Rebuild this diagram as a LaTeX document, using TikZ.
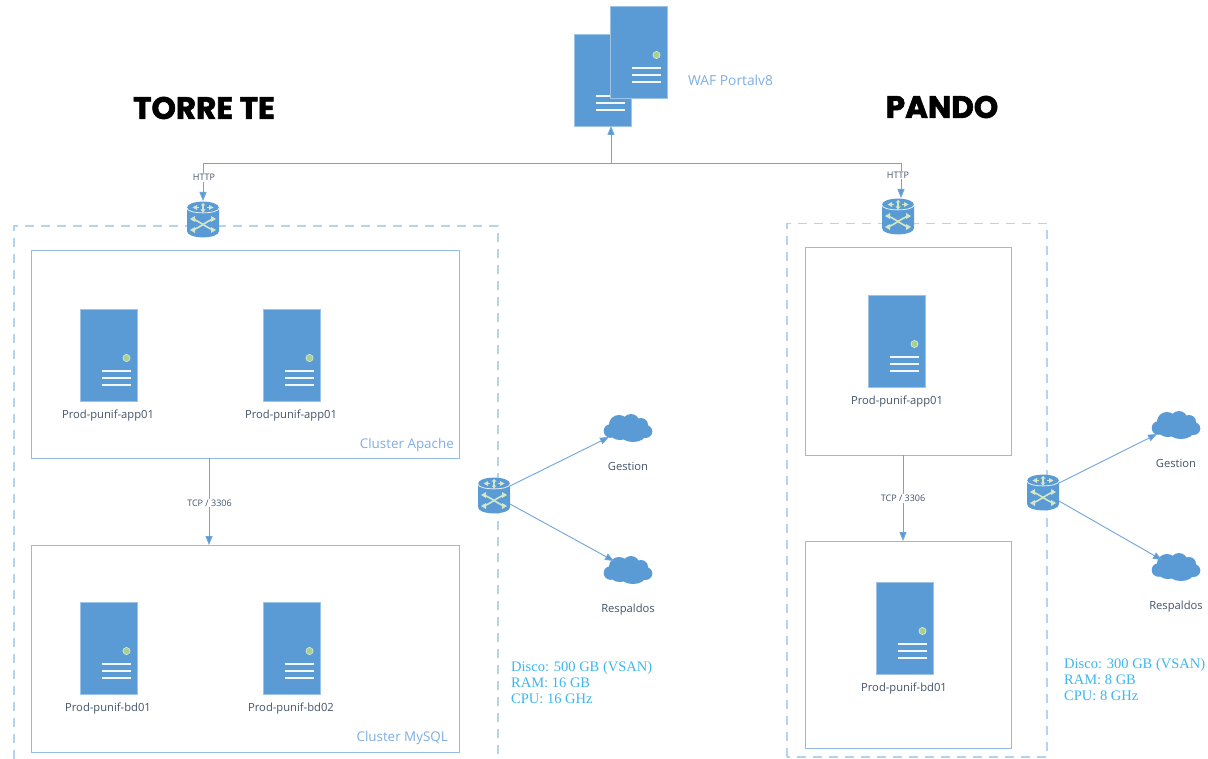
\documentclass[tikz,border=0pt]{standalone}
\usepackage{fontspec}
\setmainfont{Open Sans}
\newfontfamily\titlefont[FakeBold=2]{Poppins Bold}
\newfontfamily\specfont{Liberation Serif}
\usetikzlibrary{arrows.meta}
\definecolor{srvblue}{HTML}{5B9BD5}
\definecolor{boxline}{HTML}{93BBE6}
\definecolor{dashline}{HTML}{B4D3F0}
\definecolor{conn}{HTML}{6FA5DB}
\definecolor{ledgreen}{HTML}{A9D18E}
\definecolor{paleg}{HTML}{D3E8C4}
\definecolor{slate}{HTML}{44546A}
\definecolor{clusterc}{HTML}{7FAEE2}
\definecolor{specc}{HTML}{3DB7EE}
\tikzset{
  x=1pt,y=-1pt,
  srvbox/.style={fill=srvblue,draw=srvblue!60!white,line width=.6pt,minimum width=57pt,minimum height=92pt,inner sep=0,outer sep=0},
  srvlbl/.style={text=slate,font=\fontsize{11.2}{13}\selectfont,inner sep=0},
  cluster/.style={draw=boxline,line width=1pt,fill=white},
  outerdash/.style={draw=dashline,line width=1.2pt,dash pattern=on 9pt off 7pt},
  linkarrow/.style={draw=conn,line width=.9pt,-{Triangle[length=9pt,width=7pt,fill=srvblue]}},
  linkplain/.style={draw=conn,line width=.9pt},
  smalllbl/.style={text=slate,font=\fontsize{9}{11}\selectfont,inner sep=0},
  clusterlbl/.style={text=clusterc,font=\fontsize{13.4}{16}\selectfont,inner sep=0},
  speclbl/.style={text=specc,align=left,anchor=north west,inner sep=0,font=\specfont\fontsize{14.5}{16.2}\selectfont},
  titlelbl/.style={text=black,inner sep=0,font=\titlefont\fontsize{31}{36}\selectfont},
  anchorbox/.style={inner sep=0,outer sep=0,minimum width=#1},
}
\newcommand{\srvdetails}[2]{%
  \begin{scope}[shift={(#1,#2)}]
    \fill[ledgreen,draw=white!70!ledgreen,line width=.5pt] (18,3) circle (3.6);
    \draw[white!92!srvblue,line width=1.4pt] (-7,16)--(22,16) (-7,23)--(22,23) (-7,30)--(22,30);
  \end{scope}}
\newcommand{\srvnode}[3]{%
  \node[srvbox] (#1) at (#2,#3) {};
  \srvdetails{#2}{#3}}
\newcommand{\routernode}[3]{%
  \node[anchorbox=32pt,minimum height=36pt] (#1) at (#2,#3) {};
  \begin{scope}[shift={(#2,#3)}]
    \fill[srvblue] (-16,-11) .. controls (-16,-19.5) and (16,-19.5) .. (16,-11)
      -- (16,12) .. controls (16,20.5) and (-16,20.5) .. (-16,12) -- cycle;
    \draw[white!85!srvblue,line width=.8pt] (-16,-11) .. controls (-16,-4.5) and (16,-4.5) .. (16,-11);
    % top arrows
    \draw[paleg,line width=1.1pt]
      (-9,-11.5)--(-4,-11.5) (9,-11.5)--(4,-11.5) (0,-15)--(0,-8);
    \fill[paleg] (-10.5,-11.5)--(-6,-14)--(-6,-9)--cycle (10.5,-11.5)--(6,-14)--(6,-9)--cycle
      (0,-16)--(-2.5,-13.5)--(2.5,-13.5)--cycle (0,-6.5)--(-2.5,-9.5)--(2.5,-9.5)--cycle;
    % crossing paths
    \draw[paleg,line width=1.6pt] (-11,0) .. controls (-3,2) and (3,9) .. (11,11);
    \draw[paleg,line width=1.6pt] (-11,11) .. controls (-3,9) and (3,2) .. (11,0);
    \fill[paleg] (-13,0)--(-8,-3)--(-8,3)--cycle (13,0)--(8,-3)--(8,3)--cycle
      (-13,11)--(-8,8)--(-8,14)--cycle (13,11)--(8,8)--(8,14)--cycle;
  \end{scope}}
\newcommand{\cloudnode}[3]{%
  \node[anchorbox=48pt,minimum height=28pt] (#1) at (#2,#3) {};
  \begin{scope}[shift={(#2,#3)}]
    \fill[srvblue] (-17.5,3) circle (6.8) (-9,-3.5) ellipse [x radius=10,y radius=9.5]
      (3,-5.5) ellipse [x radius=8.5,y radius=8.5] (13,-3) ellipse [x radius=7,y radius=7]
      (17.5,3.5) ellipse [x radius=6.8,y radius=6.5] (5,6) ellipse [x radius=13,y radius=8]
      (-8,5) ellipse [x radius=10,y radius=7] (0,0) ellipse [x radius=14,y radius=8];
  \end{scope}}
\begin{document}
\begin{tikzpicture}
\useasboundingbox (0,0) rectangle (1208,759);
\clip (0,0) rectangle (1208,759);
\fill[white] (0,0) rectangle (1208,759);

% titles
\node[titlelbl] (ttorre) at (204,108) {TORRE TE};
\node[titlelbl] (tpando) at (942,107) {PANDO};

% WAF
\srvnode{wafback}{602.5}{80}
\srvnode{waffront}{638.5}{52}
\node[clusterlbl,anchor=west,font=\fontsize{13.8}{16}\selectfont] (waflbl) at (688,80) {WAF Portalv8};

% dashed groups
\draw[outerdash] (14,775) -- (14,226) -- (498,226) -- (498,775);
\draw[outerdash] (787,757) -- (787,223.5) -- (1047,223.5) -- (1047,757) -- cycle;

% cluster boxes
\node[cluster,minimum width=428pt,minimum height=207pt,inner sep=0,outer sep=0] (capache) at (245,354.5) {};
\node[cluster,minimum width=428pt,minimum height=207pt,inner sep=0,outer sep=0] (cmysql) at (245,648.5) {};
\node[cluster,minimum width=206pt,minimum height=207pt,inner sep=0,outer sep=0] (papp) at (908,351.5) {};
\node[cluster,minimum width=206pt,minimum height=207pt,inner sep=0,outer sep=0] (pbd) at (908,644.5) {};

% servers
\srvnode{s1}{108.5}{355}
\srvnode{s2}{291.5}{355}
\srvnode{s3}{108.5}{648}
\srvnode{s4}{291.5}{648}
\srvnode{s5}{896.5}{341}
\srvnode{s6}{904.5}{628}

\node[srvlbl] (l1) at (108,416) {Prod-punif-app01};
\node[srvlbl] (l2) at (291,416) {Prod-punif-app01};
\node[srvlbl] (l3) at (108,709) {Prod-punif-bd01};
\node[srvlbl] (l4) at (291,709) {Prod-punif-bd02};
\node[srvlbl] (l5) at (897,402) {Prod-punif-app01};
\node[srvlbl] (l6) at (904,689) {Prod-punif-bd01};

\node[clusterlbl,anchor=east] (la) at (454,445.5) {Cluster Apache};
\node[clusterlbl,anchor=east] (lm) at (448,738) {Cluster MySQL};

% routers
\routernode{rt}{203}{219}
\routernode{rp}{898}{216}
\routernode{rs1}{494}{495}
\routernode{rs2}{1043}{492}

% clouds
\cloudnode{c1}{628}{428}
\cloudnode{c2}{628}{570}
\cloudnode{c3}{1176}{425}
\cloudnode{c4}{1176}{567}

\node[srvlbl] (g1) at (628,466) {Gestion};
\node[srvlbl] (g2) at (628,610) {Respaldos};
\node[srvlbl] (g3) at (1176,463) {Gestion};
\node[srvlbl] (g4) at (1176,607) {Respaldos};

% connectors
\coordinate (trunkl) at (203,163);
\coordinate (trunkr) at (901,163);
\coordinate (trunkm) at (611,163);
\draw[linkplain] (trunkl) -- (trunkr);
\draw[linkarrow] (trunkm) -- (trunkm |- wafback.south);
\draw[linkarrow] (trunkl) -- (rt.north);
\draw[linkarrow] (trunkr) -- (trunkr |- rp.north);
\node[smalllbl,fill=white,inner xsep=1pt,inner ysep=1pt] (h1) at (204,177.5) {HTTP};
\node[smalllbl,fill=white,inner xsep=1pt,inner ysep=1pt] (h2) at (898,175) {HTTP};

\draw[linkarrow] (209,458) coordinate (a1) -- (a1 |- cmysql.north);
\draw[linkarrow] (903,455) coordinate (a2) -- (a2 |- pbd.north);
\node[smalllbl,fill=white,inner xsep=1pt,inner ysep=1pt] (t1) at (209.5,503) {TCP / 3306};
\node[smalllbl,fill=white,inner xsep=1pt,inner ysep=1pt] (t2) at (903,498.5) {TCP / 3306};

\draw[linkarrow] ([yshift=9pt]rs1.east) -- ([xshift=5pt,yshift=-9pt]c1.west);
\draw[linkarrow] ([yshift=-9pt]rs1.east) -- ([xshift=10pt,yshift=9pt]c2.west);
\draw[linkarrow] ([yshift=9pt]rs2.east) -- ([xshift=5pt,yshift=-9pt]c3.west);
\draw[linkarrow] ([yshift=-9pt]rs2.east) -- ([xshift=10pt,yshift=7pt]c4.west);

% specs
\node[speclbl] (sp1) at (511,661) {Disco: 500 GB (VSAN)\\RAM: 16 GB\\CPU: 16 GHz};
\node[speclbl] (sp2) at (1064,658) {Disco: 300 GB (VSAN)\\RAM: 8 GB\\CPU: 8 GHz};
\end{tikzpicture}
\end{document}
